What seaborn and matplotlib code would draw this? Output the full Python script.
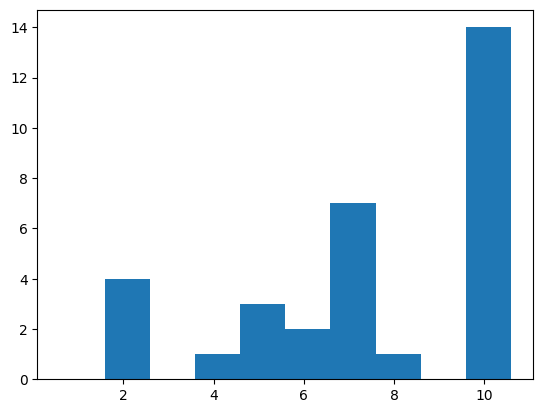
import numpy as np
import matplotlib
matplotlib.use("Agg")
import matplotlib.pyplot as plt
import seaborn as sns

# histogram: 10 bins of width 1
bin_edges = [0.59, 1.59, 2.59, 3.59, 4.59, 5.59, 6.59, 7.59, 8.59, 9.59, 10.59]
counts = [0, 4, 0, 1, 3, 2, 7, 1, 0, 14]

centers = [(a + b) / 2 for a, b in zip(bin_edges[:-1], bin_edges[1:])]

fig, ax = plt.subplots(figsize=(6.4, 4.8), dpi=100)
sns.histplot(x=centers, weights=counts, bins=bin_edges, color="#1f77b4",
             alpha=1, edgecolor="none", linewidth=0, ax=ax)
ax.set_xlabel("")
ax.set_ylabel("")
ax.set_xticks([2, 4, 6, 8, 10])
fig.savefig("out.png", bbox_inches="tight")
